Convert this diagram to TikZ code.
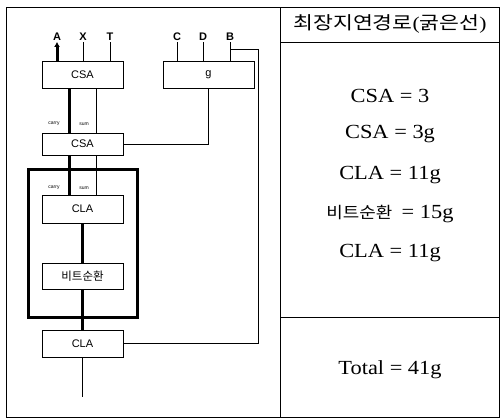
\documentclass[tikz,border=0pt]{standalone}
\usepackage{fontspec}
\setmainfont{Liberation Serif}
\setsansfont{Liberation Sans}
\newfontfamily\kr{Noto Sans CJK KR}
\usepackage{graphicx}
\usepackage{tikz}
\usetikzlibrary{arrows.meta}
\usetikzlibrary{calc}
\newcommand{\widetxt}[1]{\scalebox{1.12}[1]{#1}}
\tikzset{
  block/.style={draw, line width=0.9pt, minimum width=81pt, minimum height=27pt, inner sep=0pt, font=\sffamily\fontsize{11}{11}\selectfont},
  wire/.style={line width=1pt},
  heavy/.style={line width=3pt},
  pin/.style={font=\sffamily\bfseries\fontsize{11}{11}\selectfont, inner sep=1pt},
  tag/.style={font=\sffamily\fontsize{5}{5}\selectfont, inner sep=0pt},
  cost/.style={font=\fontsize{20}{20}\selectfont},
}

\begin{document}
\begin{tikzpicture}[x=1pt, y=-1pt]
    \useasboundingbox (0,0) rectangle (500,418);
    % Frame
    \draw[wire] (6,7) rectangle (499,417);
    \draw[wire] (280,7) -- (280,417);
    \draw[wire] (280,42) -- (499,42);
    \draw[wire] (280,317) -- (499,317);
    % Blocks
    \node[block] (csa1) at (82.5,74.5) {CSA};
    \node[block, minimum width=91pt] (g) at (208.5,74.5) {g};
    \node[block, minimum height=22pt] (csa2) at (82.5,144) {CSA};
    \node[block, minimum height=28pt] (cla1) at (82.5,209) {CLA};
    \node[block, minimum height=26pt] (rot) at (82.5,276) {\kr\fontsize{11.5}{11.5}\selectfont 비트순환};
    \node[block] (cla2) at (82.5,343.5) {CLA};
    \draw[heavy] (28,169) rectangle (137,317);
    % Inputs
    \node[pin] (A) at (57,37) {A};
    \node[pin] (X) at (83,37) {X};
    \node[pin] (T) at (110,37) {T};
    \node[pin] (C) at (177,37) {C};
    \node[pin] (D) at (203,37) {D};
    \node[pin] (B) at (230,37) {B};
    \draw [heavy, arrows = {-Latex[length=5pt, width=6pt]}] (csa1.north -| A) -- (A.south);
    \draw[wire] (csa1.north -| X) -- (X.south);
    \draw[wire] (csa1.north -| T) -- (T.south);
    \draw[wire] (g.north -| C) -- (C.south);
    \draw[wire] (g.north -| D) -- (D.south);
    \draw[wire] (g.north -| B) -- (B.south);
    % B loop and g output
    \coordinate (bturn) at (258,49);
    \draw[wire] (B |- bturn) -- (bturn) -- (bturn |- cla2.east) -- (cla2.east);
    \draw[wire] (g.south) -- (g.south |- csa2.east) -- (csa2.east);
    % carry / sum
    \coordinate (cy) at (69,0);
    \coordinate (sm) at (96,0);
    \draw[heavy] (csa1.south -| cy) -- (csa2.north -| cy);
    \draw[wire] (csa1.south -| sm) -- (csa2.north -| sm);
    \node[tag] (carry1) at (54,124) {carry};
    \node[tag] (sum1) at (84,124) {sum};
    \draw[heavy] (csa2.south -| cy) -- (cla1.north -| cy);
    \draw[wire] (csa2.south -| sm) -- (cla1.north -| sm);
    \node[tag] (carry2) at (54,188) {carry};
    \node[tag] (sum2) at (84,188) {sum};
    \draw[heavy] (cla1.south) -- (rot.north);
    \draw[heavy] (rot.south) -- (cla2.north);
    \coordinate (out) at (82.5,397);
    \draw[wire] (cla2.south) -- (out);
    % Delays
    \node[font=\fontsize{18}{18}\selectfont] (head) at (390,24) {\scalebox{1.2}[1]{{\kr 최장지연경로}({\kr 굵은선})}};
    \node[cost] (d1) at (390,96) {\widetxt{CSA = 3}};
    \node[cost] (d2) at (390,134) {\widetxt{CSA = 3g}};
    \node[cost] (d3) at (390,175) {\widetxt{CLA = 11g}};
    \node[cost] (d4) at (390,214) {\widetxt{{\kr\fontsize{16}{16}\selectfont 비트순환} \,= 15g}};
    \node[cost] (d5) at (390,253) {\widetxt{CLA = 11g}};
    \node[cost] (total) at (390,370) {\widetxt{Total = 41g}};
\end{tikzpicture}
\end{document}
